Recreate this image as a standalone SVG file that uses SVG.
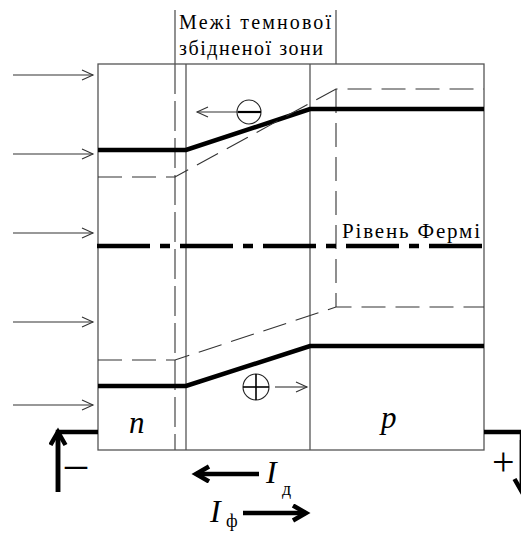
<svg xmlns="http://www.w3.org/2000/svg" width="521" height="533" viewBox="0 0 521 533">
<defs>
<style>
.frame{fill:none;stroke:#555;stroke-width:1.3}
.thin{fill:none;stroke:#333;stroke-width:1.1}
.thick{fill:none;stroke:#000;stroke-width:4.5}
.dash{fill:none;stroke:#333;stroke-width:1.1;stroke-dasharray:24 10}
.fermi{fill:none;stroke:#000;stroke-width:4.5;stroke-dasharray:53 10 10 10}
.lbl{font-family:"Liberation Serif","Times New Roman",serif;fill:#000}
.it{font-style:italic}
</style>
<marker id="open" markerUnits="userSpaceOnUse" markerWidth="14" markerHeight="14" refX="12" refY="6" orient="auto">
<path d="M1,1 L12,6 L1,11" fill="none" stroke="#333" stroke-width="1.1"/>
</marker>
<marker id="bold" markerUnits="userSpaceOnUse" markerWidth="20" markerHeight="20" refX="15" refY="9" orient="auto">
<path d="M2,1.5 L15,9 L2,16.5" fill="none" stroke="#000" stroke-width="4.5" stroke-linejoin="miter"/>
</marker>
</defs>
<rect width="521" height="533" fill="#fff"/>

<g id="frame">
<rect class="frame" x="98" y="64" width="386" height="386"/>
<line class="frame" x1="186" y1="64" x2="186" y2="450"/>
<line class="frame" x1="310" y1="64" x2="310" y2="450"/>
<line class="frame" x1="175" y1="10" x2="175" y2="64"/>
<line class="frame" x1="175" y1="64" x2="175" y2="450" stroke-dasharray="30 7"/>
<line class="frame" x1="336" y1="10" x2="336" y2="64"/>
<line class="dash" x1="336" y1="89" x2="336" y2="307"/>
</g>

<g id="title">
<text class="lbl" x="179" y="29" font-size="20" textLength="152" lengthAdjust="spacing">Межі темнової</text>
<text class="lbl" x="179" y="55" font-size="20" textLength="144" lengthAdjust="spacing">збідненої зони</text>
</g>

<g id="bands">
<polyline class="thick" points="98,150 186,150 310,109 484,109"/>
<polyline class="dash" points="98,177 175,177 336,89 484,89"/>
<line class="fermi" x1="97" y1="246" x2="484" y2="246"/>
<polyline class="dash" points="98,360 175,360 336,307 484,307"/>
<polyline class="thick" points="98,386 186,386 310,346 484,346"/>
</g>

<g id="fermi-label">
<text class="lbl" x="342" y="238" font-size="21" textLength="138" lengthAdjust="spacing">Рівень Фермі</text>
</g>

<g id="connectors">
<line class="thin" x1="13" y1="75" x2="93" y2="75" marker-end="url(#open)"/>
<line class="thin" x1="13" y1="154" x2="93" y2="154" marker-end="url(#open)"/>
<line class="thin" x1="13" y1="233" x2="93" y2="233" marker-end="url(#open)"/>
<line class="thin" x1="13" y1="322" x2="93" y2="322" marker-end="url(#open)"/>
<line class="thin" x1="13" y1="405" x2="93" y2="405" marker-end="url(#open)"/>
<line class="thin" x1="238" y1="112" x2="197" y2="112" marker-end="url(#open)"/>
<line class="thin" x1="275" y1="387" x2="307" y2="387" marker-end="url(#open)"/>
<polyline class="thick" points="98,432 58,432 58,492"/>
<line class="thick" x1="58" y1="492" x2="58" y2="432" marker-end="url(#bold)"/>
<polyline class="thick" points="484,432 522,432 522,488"/>
<line class="thick" x1="522" y1="440" x2="522" y2="492" marker-end="url(#bold)"/>
<line class="thick" x1="259" y1="474" x2="196" y2="474" marker-end="url(#bold)"/>
<line class="thick" x1="243" y1="513" x2="306" y2="513" marker-end="url(#bold)"/>
</g>

<g id="electron">
<circle cx="249" cy="112" r="12" fill="none" stroke="#222" stroke-width="1.1"/>
<line x1="238" y1="112" x2="261" y2="112" stroke="#000" stroke-width="2.2"/>
</g>

<g id="hole">
<circle cx="256" cy="387" r="13" fill="none" stroke="#222" stroke-width="1.1"/>
<line x1="243" y1="387" x2="269" y2="387" stroke="#000" stroke-width="1.6"/>
<line x1="256" y1="374" x2="256" y2="400" stroke="#000" stroke-width="1.6"/>
</g>

<g id="labels">
<text class="lbl it" x="129" y="433" font-size="31">n</text>
<text class="lbl it" x="381" y="428" font-size="31">p</text>
<text class="lbl" x="65" y="478" font-size="44">–</text>
<text class="lbl" x="492" y="475" font-size="40">+</text>
<text class="lbl it" x="266" y="483" font-size="32">I</text>
<text class="lbl" x="282" y="495" font-size="18">д</text>
<text class="lbl it" x="210" y="522" font-size="32">I</text>
<text class="lbl" x="226" y="527" font-size="18">ф</text>
</g>
</svg>
